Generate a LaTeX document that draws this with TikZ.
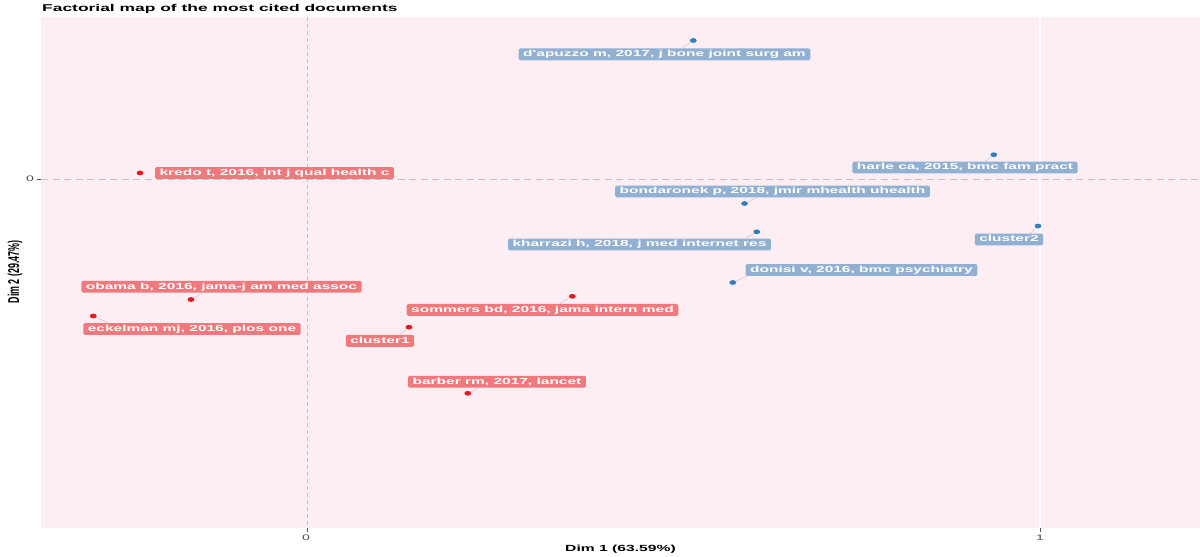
\documentclass[tikz,border=0pt]{standalone}
\usepackage{fontspec}
\setmainfont{Liberation Sans}
\usetikzlibrary{shapes.geometric}
\definecolor{panelbg}{HTML}{FDEEF3}
\definecolor{redpt}{HTML}{E41A1C}
\definecolor{bluept}{HTML}{377EB8}
\definecolor{redlab}{HTML}{F0797D}
\definecolor{bluelab}{HTML}{91B0D2}
\definecolor{dashgray}{HTML}{C2C2C2}
\definecolor{seggray}{HTML}{D0D0D0}
\definecolor{ticktxt}{HTML}{4D4D4D}
\definecolor{tickline}{HTML}{555555}
\newcommand{\hs}[1]{\scalebox{1.76}[1]{#1}}
\newcommand{\vs}[1]{\scalebox{1}[1.76]{#1}}
\tikzset{
  ptbase/.style={ellipse, inner sep=0pt, minimum width=6.8pt, minimum height=4.8pt},
  rpt/.style={ptbase, fill=redpt},
  bpt/.style={ptbase, fill=bluept},
  labbase/.style={text=white, font=\bfseries\fontsize{8.8}{9}\selectfont, rounded corners=1.5pt,
    inner xsep=4.5pt, inner ysep=1.7pt, text height=6.6pt, text depth=1.9pt},
  rlab/.style={labbase, fill=redlab},
  blab/.style={labbase, fill=bluelab},
  seg/.style={draw=seggray, line width=0.7pt},
  refline/.style={draw=dashgray, line width=1pt},
  tickmark/.style={draw=tickline, line width=0.6pt},
  ticklab/.style={text=ticktxt, font=\fontsize{8}{9}\selectfont, inner sep=0pt},
  axtitle/.style={font=\bfseries\fontsize{8.9}{9}\selectfont, inner sep=0pt},
}
\begin{document}
\begin{tikzpicture}[x=1pt,y=-1pt]
\useasboundingbox (0,0) rectangle (1200,557);
\fill[white] (0,0) rectangle (1200,557);
% panel
\fill[panelbg] (41,17) rectangle (1200,528);
\draw[white, line width=2pt] (1040,17) -- (1040,528);
\draw[refline, dash pattern=on 4pt off 3pt] (307.5,17) -- (307.5,528);
\draw[refline, dash pattern=on 7pt off 4.5pt] (41,179) -- (1200,179);
% ticks
\draw[tickmark] (37,179) -- (41,179);
\draw[tickmark] (307.5,528) -- (307.5,531.5);
\draw[tickmark] (1040,528) -- (1040,531.5);
\node[ticklab] (ty0) at (30,179) {\hs{0}};
\node[ticklab] (tx0) at (306,537.5) {\hs{0}};
\node[ticklab] (tx1) at (1040,537.5) {\hs{1}};
% titles
\node[font=\bfseries\fontsize{9.9}{10}\selectfont, anchor=base west, inner sep=0pt] (title) at (42,11) {\hs{Factorial map of the most cited documents}};
\node[axtitle, anchor=base] (xt) at (620.5,551.5) {\hs{Dim 1 (63.59\%)}};
\node[axtitle, rotate=90] (yt) at (15,272) {\vs{Dim 2 (29.47\%)}};
% labels
\node[blab] (l1) at (664.5,54.3) {\hs{d\textquotesingle apuzzo m, 2017, j bone joint surg am}};
\node[blab] (l2) at (965,167.5) {\hs{harle ca, 2015, bmc fam pract}};
\node[rlab] (l3) at (274.5,173) {\hs{kredo t, 2016, int j qual health c}};
\node[blab] (l4) at (772.5,191.5) {\hs{bondaronek p, 2018, jmir mhealth uhealth}};
\node[blab] (l5) at (1009,239.5) {\hs{cluster2}};
\node[blab] (l6) at (639.5,244.5) {\hs{kharrazi h, 2018, j med internet res}};
\node[blab] (l7) at (861.5,270) {\hs{donisi v, 2016, bmc psychiatry}};
\node[rlab] (l8) at (221.5,286.7) {\hs{obama b, 2016, jama-j am med assoc}};
\node[rlab] (l9) at (542.5,309.8) {\hs{sommers bd, 2016, jama intern med}};
\node[rlab] (l10) at (192,329) {\hs{eckelman mj, 2016, plos one}};
\node[rlab] (l11) at (380,340.8) {\hs{cluster1}};
\node[rlab] (l12) at (497,381.7) {\hs{barber rm, 2017, lancet}};
% points
\node[bpt] (p1) at (693.3,40.5) {};
\node[bpt] (p2) at (993.8,154.7) {};
\node[rpt] (p3) at (140,173) {};
\node[bpt] (p4) at (744.5,203.5) {};
\node[bpt] (p5) at (1038,226) {};
\node[bpt] (p6) at (756.8,231.8) {};
\node[bpt] (p7) at (732.8,282.5) {};
\node[rpt] (p8) at (191,299.5) {};
\node[rpt] (p9) at (572.3,296.3) {};
\node[rpt] (p10) at (93.3,316) {};
\node[rpt] (p11) at (409,327.2) {};
\node[rpt] (p12) at (467.8,393.3) {};
% connectors
\draw[seg] (p1) -- ([xshift=17.5pt]l1.north);
\draw[seg] (p2) -- ([xshift=20pt]l2.north);
\draw[seg] (p4) -- ([xshift=-15.5pt]l4.south);
\draw[seg] (p5) -- ([xshift=21pt]l5.north);
\draw[seg] (p6) -- ([xshift=105.5pt]l6.north);
\draw[seg] (p7) -- ([xshift=1.5pt]l7.south west);
\draw[seg] (p8) -- ([xshift=-18.5pt]l8.south);
\draw[seg] (p9) -- ([xshift=17.5pt]l9.north);
\draw[seg] (p10) -- ([xshift=-84pt]l10.north);
\draw[seg] (p11) -- ([xshift=20pt]l11.north);
\draw[seg] (p12) -- ([xshift=-19pt]l12.south);
\end{tikzpicture}
\end{document}
